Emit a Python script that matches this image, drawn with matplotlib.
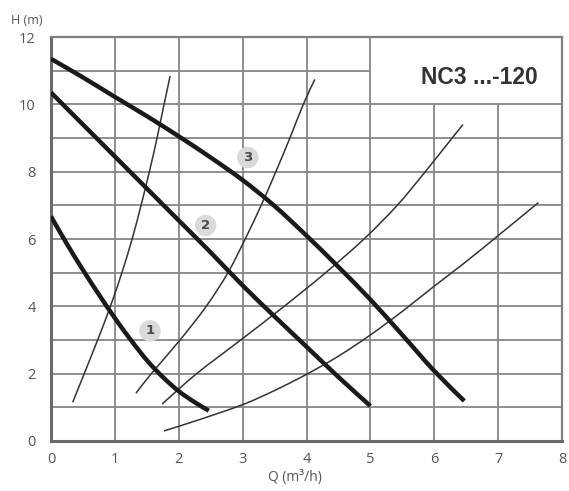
import matplotlib
matplotlib.use("Agg")
import matplotlib.pyplot as plt
from matplotlib.path import Path
from matplotlib.patches import PathPatch

# ---- data ----
x_ticks = [0, 1, 2, 3, 4, 5, 6, 7, 8]
y_ticks = [0, 2, 4, 6, 8, 10, 12]
grid_x = [1, 2, 3, 4, 5, 6, 7]
grid_y = [1, 2, 3, 4, 5, 6, 7, 8, 9, 10, 11]

# pump curves (speed 1,2,3)
q1 = [0, 0.25, 0.5, 0.75, 1.0, 1.25, 1.5, 1.75, 2.0, 2.25, 2.47]
h1 = [6.67, 5.85, 5.08, 4.35, 3.65, 3.0, 2.4, 1.9, 1.48, 1.15, 0.9]
q2 = [0, 0.5, 1, 1.5, 2, 2.5, 3, 3.5, 4, 4.5, 5]
h2 = [10.35, 9.4, 8.45, 7.5, 6.55, 5.6, 4.62, 3.7, 2.8, 1.9, 1.04]
q3 = [0, 0.5, 1, 1.5, 2, 2.5, 3, 3.5, 4, 4.5, 5, 5.5, 6, 6.47]
h3 = [11.35, 10.8, 10.22, 9.65, 9.05, 8.42, 7.75, 6.98, 6.1, 5.17, 4.2, 3.15, 2.08, 1.19]

# system curves
qa = [0.34, 0.52, 0.73, 0.93, 1.11, 1.27, 1.41, 1.54, 1.66, 1.77, 1.865]
ha = [1.15, 2, 3, 4, 5, 6, 7, 8, 9, 10, 10.84]
qb = [1.33, 1.57, 2.02, 2.43, 2.77, 3.04, 3.29, 3.52, 3.74, 3.95, 4.13]
hb = [1.42, 2, 3, 4, 5, 6, 7, 8, 9, 10, 10.74]
qc = [1.74, 2.28, 2.97, 3.65, 4.3, 4.9, 5.42, 5.86, 6.28, 6.45]
hc = [1.1, 2, 3, 4, 5, 6, 7, 8, 9, 9.4]
qd = [1.77, 2.3, 3.0, 3.5, 4.0, 4.5, 5.0, 5.5, 6.0, 6.5, 7.0, 7.63]
hd = [0.3, 0.62, 1.08, 1.5, 1.98, 2.52, 3.15, 3.85, 4.6, 5.33, 6.1, 7.08]

curve_labels = ["1", "2", "3"]
label_q = [1.55, 2.42, 3.08]
label_h = [3.27, 6.4, 8.42]

title = "NC3 ...-120"


def smooth_path(xs, ys):
    """Cubic Bezier path through the points (Catmull-Rom tangents)."""
    pts = list(zip(xs, ys))
    n = len(pts)
    verts = [pts[0]]
    codes = [Path.MOVETO]
    for i in range(n - 1):
        p0 = pts[i - 1] if i > 0 else pts[i]
        p1 = pts[i]
        p2 = pts[i + 1]
        p3 = pts[i + 2] if i + 2 < n else pts[i + 1]
        c1 = (p1[0] + (p2[0] - p0[0]) / 6.0, p1[1] + (p2[1] - p0[1]) / 6.0)
        c2 = (p2[0] - (p3[0] - p1[0]) / 6.0, p2[1] - (p3[1] - p1[1]) / 6.0)
        verts += [c1, c2, p2]
        codes += [Path.CURVE4] * 3
    return Path(verts, codes)


# ---- figure ----
fig = plt.figure(figsize=(5.69, 4.91), dpi=100)
ax = fig.add_axes([51/569, 1-441/491, (562-51)/569, (441-37)/491])
ax.set_xlim(0, 8)
ax.set_ylim(0, 12)

gc = "#868686"
glw = 1.3
for gx in grid_x:
    top = 10 if gx > 5 else 12
    ax.vlines(gx, 0, top, colors=gc, lw=glw, zorder=1)
for gy in grid_y:
    right = 5 if gy > 10 else 8
    ax.hlines(gy, 0, right, colors=gc, lw=glw, zorder=1)

for s in ax.spines.values():
    s.set_color("#808080")
    s.set_linewidth(1.6)
for k in ["left", "bottom"]:
    ax.spines[k].set_color("#6a6a6a")
    ax.spines[k].set_linewidth(2.2)

thin_c = "#333333"
for q, h in [(qa, ha), (qb, hb), (qc, hc), (qd, hd)]:
    ax.add_patch(PathPatch(smooth_path(q, h), fill=False, ec=thin_c, lw=1.1,
                           zorder=3, capstyle="butt"))

for q, h in [(q1, h1), (q2, h2), (q3, h3)]:
    ax.add_patch(PathPatch(smooth_path(q, h), fill=False, ec="#1a1a1a", lw=3.2,
                           zorder=4, capstyle="butt", joinstyle="round"))

for t, x, y in zip(curve_labels, label_q, label_h):
    ax.text(x, y, t, ha="center", va="center", fontsize=9.5, fontweight="bold",
            color="#4a4a4a", zorder=5,
            bbox=dict(boxstyle="circle,pad=0.32", fc="#dadada", ec="none"))

ax.text(6.7, 10.8, title, ha="center", va="center", fontsize=16.5,
        fontweight="bold", color="#333333", family="Liberation Sans", zorder=5)

ax.set_xticks(x_ticks)
ax.set_yticks(y_ticks)
ax.set_xticklabels([str(v) for v in x_ticks])
ax.set_yticklabels([str(v) for v in y_ticks])
ax.tick_params(axis="both", length=0, labelsize=10.5, colors="#555555")
ax.tick_params(axis="y", pad=11)
ax.tick_params(axis="x", pad=8)
for lab in ax.get_xticklabels() + ax.get_yticklabels():
    lab.set_family("Open Sans")

fig.text(27/569, 1-21/491, "H (m)", ha="center", va="center", fontsize=9,
         color="#555555", family="Open Sans")
fig.text(295/569, 1-477/491, "Q (m\u00b3/h)", ha="center", va="center",
         fontsize=10, color="#555555", family="Open Sans")

fig.savefig("out.png", dpi=100)
